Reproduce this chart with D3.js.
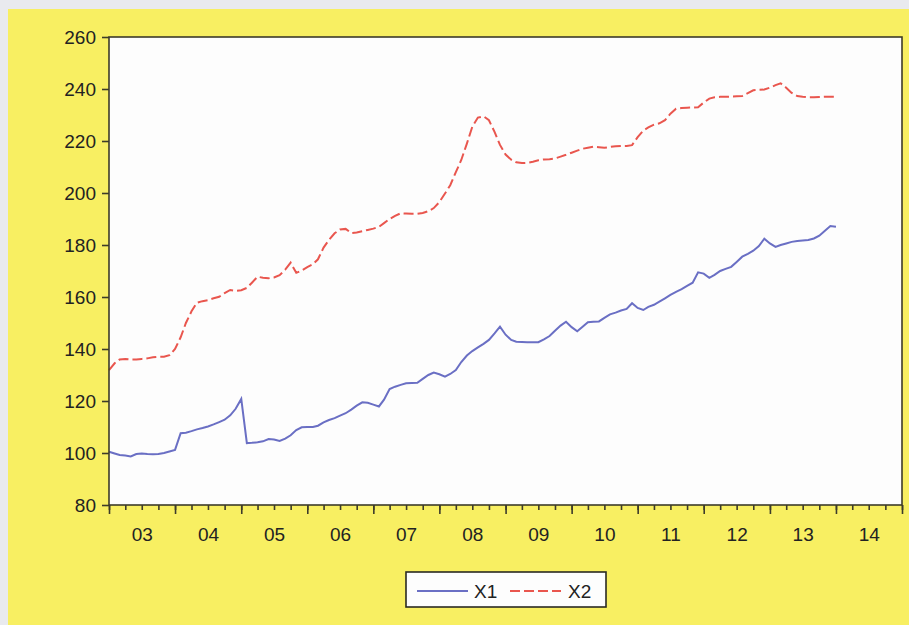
<!DOCTYPE html>
<html>
<head>
<meta charset="utf-8">
<script src="https://cdn.jsdelivr.net/npm/d3@7"></script>
<style>
  html, body { margin: 0; padding: 0; background: #e9eaee; }
  svg { display: block; }
  text { font-family: "Liberation Sans", Arial, sans-serif; fill: #222; }
</style>
</head>
<body>
<svg id="chart" width="909" height="625"></svg>
<script>
// Monthly observations, January 2003 to January 2014
const startYear = 2003;
const x1Values = [
  100.5, 99.8, 99.2, 99.0, 98.7, 99.6, 99.8, 99.6, 99.5, 99.6, 100.0, 100.6,
  101.2, 107.6, 107.8, 108.4, 109.1, 109.6, 110.2, 111.0, 111.9, 112.8, 114.5, 117.0,
  120.8, 103.8, 103.9, 104.1, 104.5, 105.4, 105.2, 104.6, 105.5, 106.8, 108.8, 109.9,
  110.0, 110.0, 110.5, 111.8, 112.7, 113.4, 114.4, 115.3, 116.7, 118.2, 119.5, 119.3,
  118.6, 117.9, 120.5, 124.6, 125.5, 126.2, 126.8, 126.9, 127.0, 128.5, 130.0, 130.9,
  130.3, 129.4, 130.4, 131.9, 135.0, 137.5, 139.2, 140.6, 142.0, 143.5, 146.0, 148.6,
  145.5, 143.5, 142.8, 142.7, 142.6, 142.6, 142.6, 143.7, 145.0, 147.0, 149.0, 150.5,
  148.4, 146.8, 148.5, 150.3, 150.5, 150.6, 152.0, 153.3, 154.0, 154.8, 155.4, 157.6,
  155.8, 155.0, 156.2, 157.0, 158.2, 159.5, 160.8, 162.0, 163.0, 164.3, 165.5, 169.5,
  169.0, 167.4, 168.5, 170.0, 170.8, 171.6, 173.5, 175.5, 176.6, 177.8, 179.6, 182.4,
  180.6, 179.3, 180.0, 180.6, 181.2, 181.5, 181.7, 181.9, 182.5, 183.6, 185.5, 187.3,
  187.0
];
const x2Values = [
  131.9, 134.5, 136.0, 136.2, 136.0, 136.0, 136.2, 136.4, 136.8, 137.0, 137.0, 137.6,
  140.0, 144.5, 150.0, 154.5, 157.8, 158.4, 158.8, 159.5, 160.1, 161.5, 162.7, 162.4,
  162.6, 163.5, 165.5, 167.8, 167.4, 167.2, 167.5, 168.4, 170.5, 173.2, 169.3, 170.2,
  171.5, 172.6, 174.5, 179.0, 182.0, 184.5, 186.0, 186.2, 184.6, 184.8, 185.3, 185.8,
  186.3, 187.0, 188.4, 190.0, 191.2, 192.2, 192.1, 192.0, 192.0, 192.3, 193.0, 194.2,
  196.5, 199.8, 203.0, 208.0, 212.7, 219.0, 225.5, 229.0, 229.5, 228.0, 223.5, 218.5,
  214.8, 212.8, 211.8, 211.5, 211.6, 212.0, 212.6, 212.9, 213.0, 213.3, 214.0, 214.7,
  215.5, 216.3, 217.0, 217.4, 217.8, 217.6, 217.4, 217.7, 218.0, 218.1, 218.1, 218.4,
  221.5, 224.0, 225.2, 226.3, 226.8, 228.0, 230.5, 232.4, 232.7, 232.8, 232.9, 233.0,
  234.8, 236.3, 236.8, 237.0, 237.0, 237.1, 237.2, 237.3, 238.4, 239.5, 239.7, 239.8,
  240.5, 241.5, 242.2, 240.5, 238.5, 237.3, 237.0, 236.8, 236.8, 236.9, 237.0, 237.0,
  237.0
];
const seriesNames = ["X1", "X2"];
const yTicks = [80, 100, 120, 140, 160, 180, 200, 220, 240, 260];
const yearLabels = ["03", "04", "05", "06", "07", "08", "09", "10", "11", "12", "13", "14"];

const svg = d3.select("#chart");

// page backdrop and yellow panel
svg.append("rect").attr("x", 0).attr("y", 0).attr("width", 909).attr("height", 625).attr("fill", "#e9eaee");
svg.append("rect").attr("x", 8).attr("y", 9).attr("width", 901).attr("height", 616).attr("fill", "#f8ef62");

const plot = { left: 109, right: 902, top: 37, bottom: 505 };

const x = d3.scaleTime()
  .domain([new Date(startYear, 0, 1), new Date(startYear + yearLabels.length, 0, 1)])
  .range([plot.left, plot.right]);
const y = d3.scaleLinear().domain([80, 260]).range([plot.bottom, plot.top]);

svg.append("rect")
  .attr("x", plot.left).attr("y", plot.top)
  .attr("width", plot.right - plot.left).attr("height", plot.bottom - plot.top)
  .attr("fill", "#fdfdfd");

const monthDate = i => new Date(startYear, i, 1);

const line = d3.line()
  .x((d, i) => x(monthDate(i)))
  .y(d => y(d));

svg.append("path").datum(x2Values)
  .attr("d", line)
  .attr("fill", "none")
  .attr("stroke", "#e9564e")
  .attr("stroke-width", 2)
  .attr("stroke-dasharray", "10,4");

svg.append("path").datum(x1Values)
  .attr("d", line)
  .attr("fill", "none")
  .attr("stroke", "#6a6fc4")
  .attr("stroke-width", 2);

// frame
svg.append("rect")
  .attr("x", plot.left).attr("y", plot.top)
  .attr("width", plot.right - plot.left).attr("height", plot.bottom - plot.top)
  .attr("fill", "none").attr("stroke", "#3d3b2a").attr("stroke-width", 1.6);

// y axis
const yAxis = svg.append("g")
  .attr("transform", `translate(${plot.left},0)`)
  .call(d3.axisLeft(y).tickValues(yTicks).tickSize(7).tickPadding(6));
yAxis.select(".domain").remove();
yAxis.selectAll("line").attr("stroke", "#3d3b2a").attr("stroke-width", 1.6);
yAxis.selectAll("text").attr("font-size", 19).attr("fill", "#222")
  .style("font-family", "'Liberation Sans', Arial, sans-serif");

// x axis: yearly major ticks, quarterly minor ticks, labels centred in each year
const years = d3.range(startYear, startYear + yearLabels.length + 1).map(yr => new Date(yr, 0, 1));
const quarters = d3.timeMonth.every(3).range(new Date(startYear, 0, 1), new Date(startYear + yearLabels.length, 0, 2));

const xMinor = svg.append("g")
  .attr("transform", `translate(0,${plot.bottom})`)
  .call(d3.axisBottom(x).tickValues(quarters).tickSize(5).tickFormat(""));
xMinor.select(".domain").remove();
xMinor.selectAll("line").attr("stroke", "#3d3b2a").attr("stroke-width", 1.6);

const xMajor = svg.append("g")
  .attr("transform", `translate(0,${plot.bottom})`)
  .call(d3.axisBottom(x).tickValues(years).tickSize(9).tickFormat(""));
xMajor.select(".domain").remove();
xMajor.selectAll("line").attr("stroke", "#3d3b2a").attr("stroke-width", 1.6);

const midYears = yearLabels.map((_, i) => new Date(startYear + i, 6, 1));
const xLab = svg.append("g")
  .attr("transform", `translate(0,${plot.bottom})`)
  .call(d3.axisBottom(x).tickValues(midYears).tickSize(0).tickPadding(23)
    .tickFormat((d, i) => yearLabels[i]));
xLab.select(".domain").remove();
xLab.selectAll("text").attr("font-size", 19).attr("fill", "#222")
  .style("font-family", "'Liberation Sans', Arial, sans-serif");

// legend
const legend = svg.append("g").attr("transform", "translate(406,572)");
legend.append("rect").attr("width", 200).attr("height", 35)
  .attr("fill", "#fdfdfd").attr("stroke", "#2a2a22").attr("stroke-width", 1.6);
const legendStyles = [
  { color: "#6a6fc4", dash: null, x0: 11, x1: 62, tx: 68 },
  { color: "#e9564e", dash: "10,4", x0: 104, x1: 155, tx: 162 }
];
seriesNames.forEach((name, i) => {
  const s = legendStyles[i];
  legend.append("line").attr("x1", s.x0).attr("x2", s.x1).attr("y1", 19).attr("y2", 19)
    .attr("stroke", s.color).attr("stroke-width", 2)
    .attr("stroke-dasharray", s.dash);
  legend.append("text").attr("x", s.tx).attr("y", 26).attr("font-size", 19).text(name);
});
</script>
</body>
</html>
